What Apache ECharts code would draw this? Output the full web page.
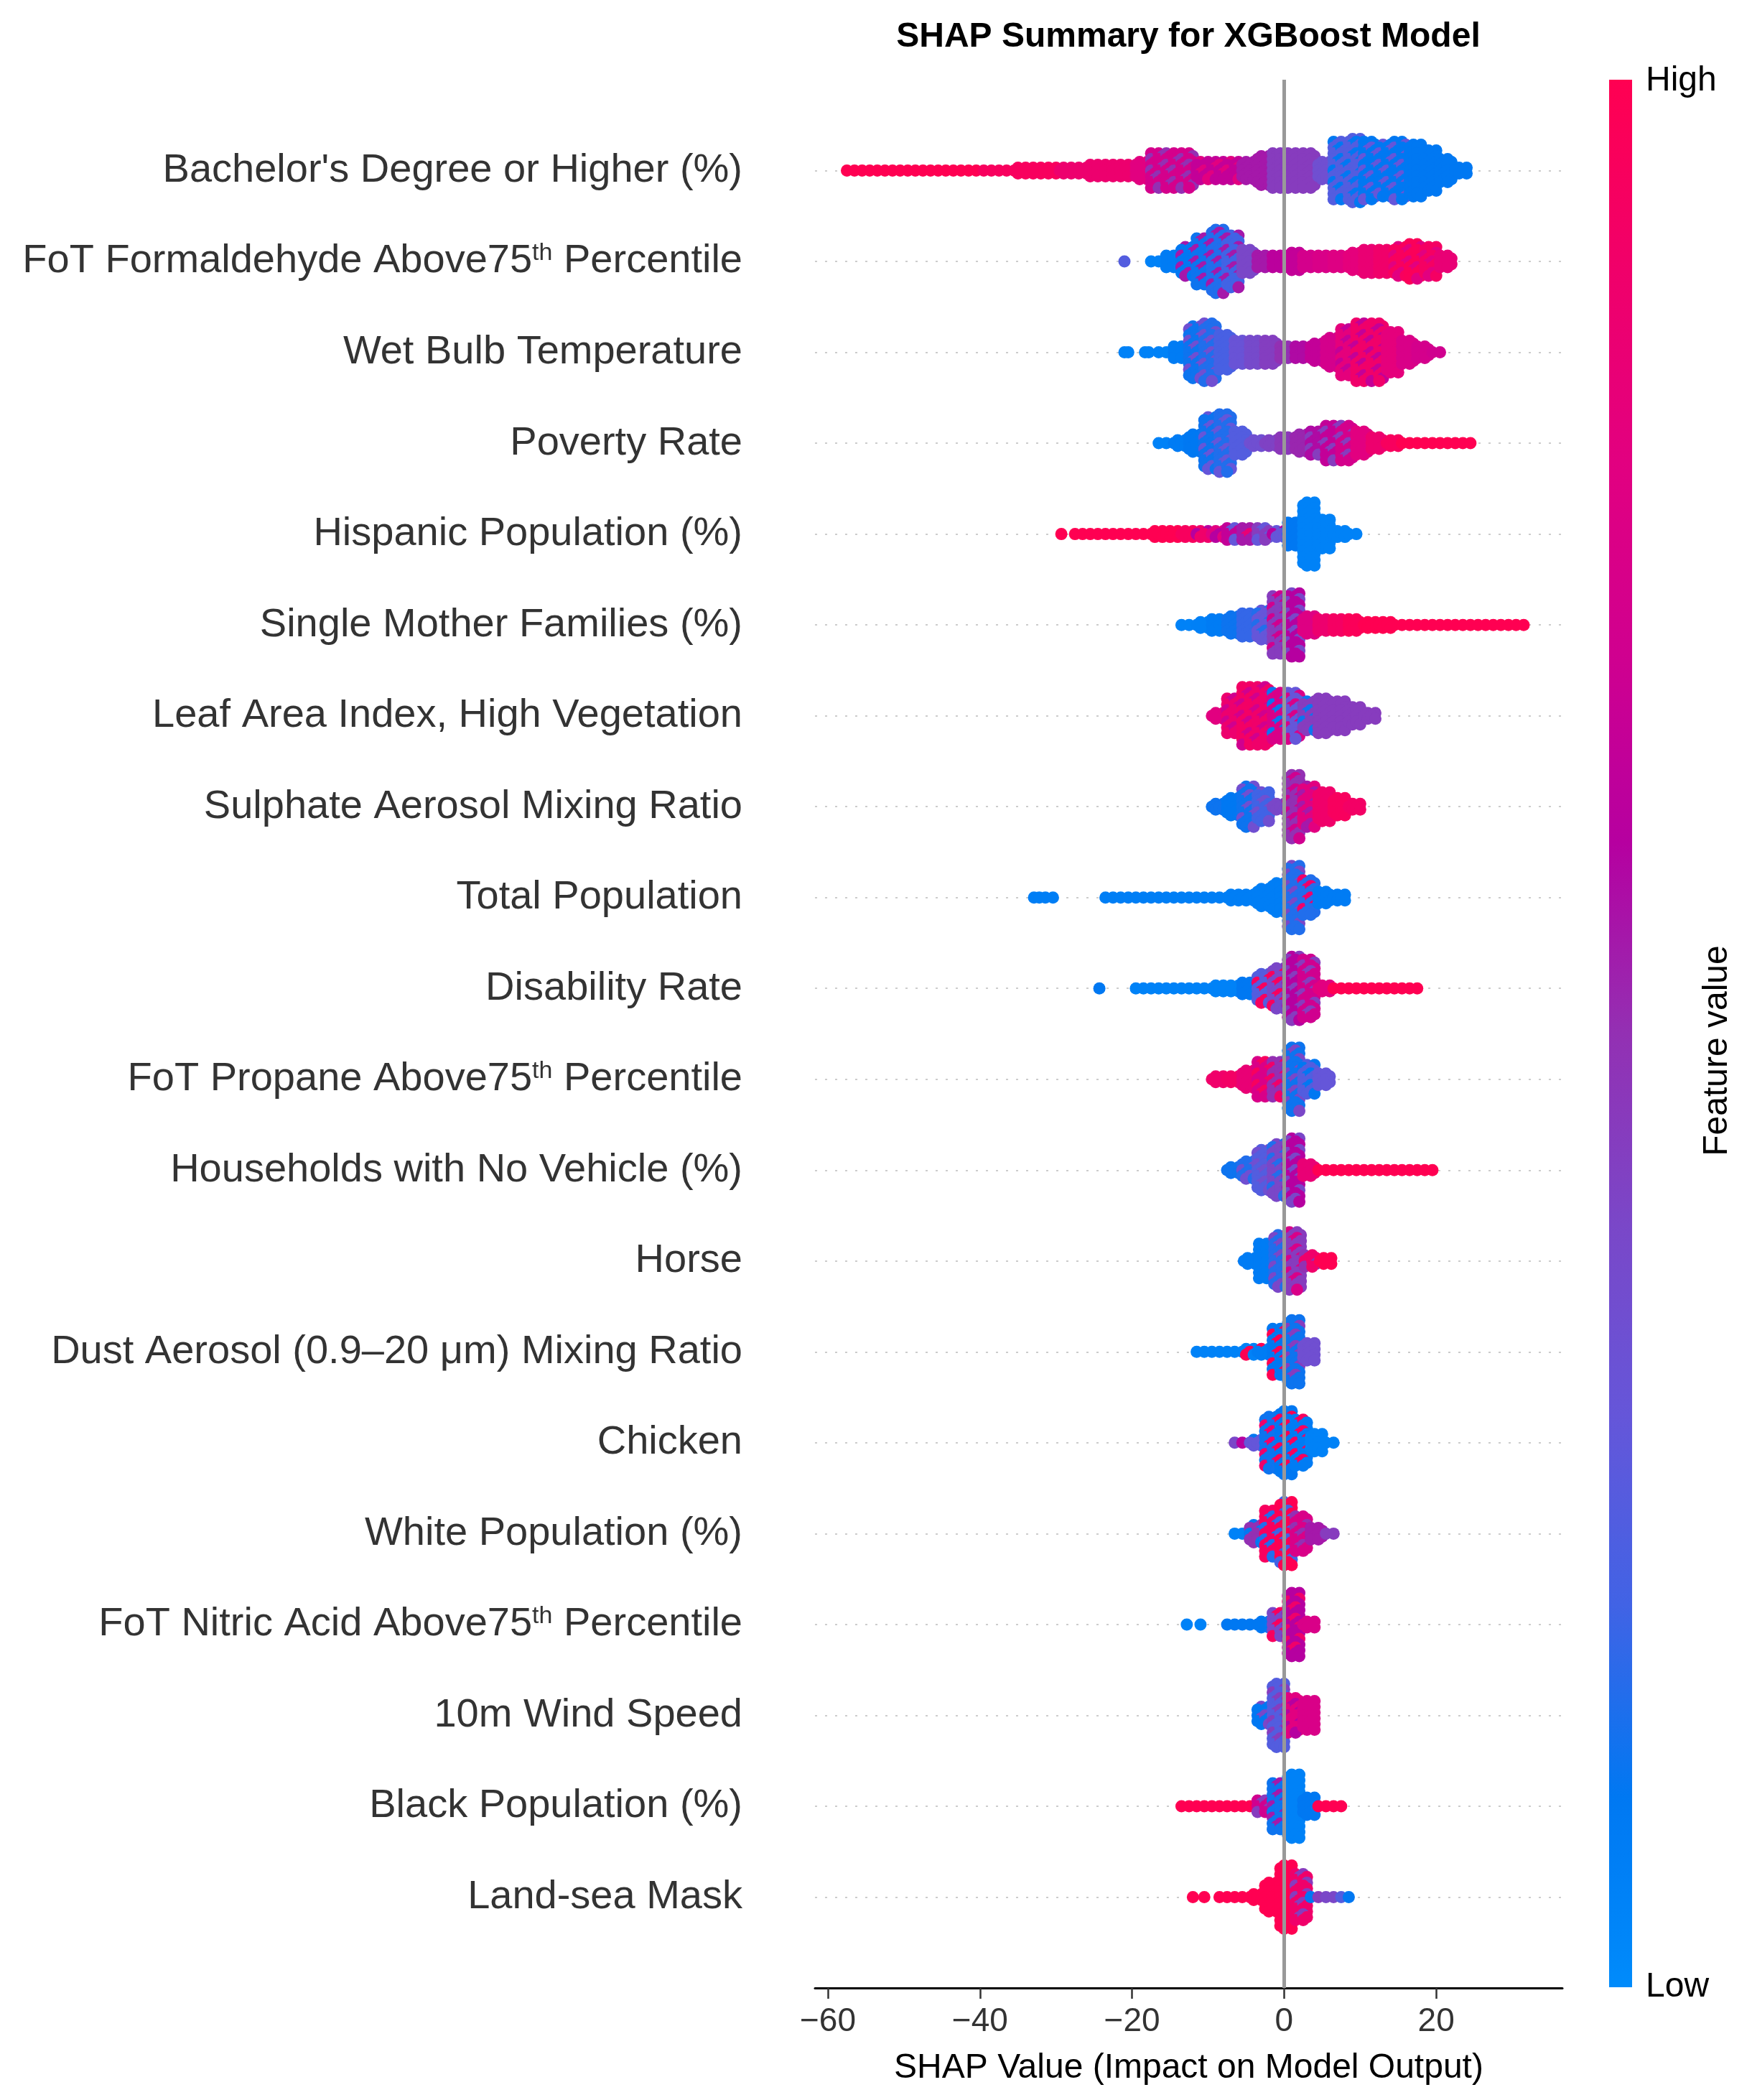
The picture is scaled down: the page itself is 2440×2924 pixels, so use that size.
<!DOCTYPE html>
<html>
<head>
<meta charset="utf-8">
<title>SHAP Summary for XGBoost Model</title>
<script src="https://cdn.jsdelivr.net/npm/echarts@6/dist/echarts.min.js"></script>
<style>
  html, body { margin: 0; padding: 0; background: #fff; }
  #chart { width: 2440px; height: 2924px; }
</style>
</head>
<body>
<div id="chart"></div>
<script>
// features, top to bottom
var featureNames = [
  "Bachelor's Degree or Higher (%)",
  'FoT Formaldehyde Above75th Percentile',
  'Wet Bulb Temperature',
  'Poverty Rate',
  'Hispanic Population (%)',
  'Single Mother Families (%)',
  'Leaf Area Index, High Vegetation',
  'Sulphate Aerosol Mixing Ratio',
  'Total Population',
  'Disability Rate',
  'FoT Propane Above75th Percentile',
  'Households with No Vehicle (%)',
  'Horse',
  'Dust Aerosol (0.9\u201320 \u03bcm) Mixing Ratio',
  'Chicken',
  'White Population (%)',
  'FoT Nitric Acid Above75th Percentile',
  '10m Wind Speed',
  'Black Population (%)',
  'Land-sea Mask'
];

var xTicks = [-60, -40, -20, 0, 20];

// swarm: bins 2 SHAP units wide, starting at binStart
// binDepth = how many dots are stacked each side of the row line
// binValue = feature value (0 low .. 1 high), binMix = second value mixed in (-1 none)
var binStart = [-57, -17, -16, -16, -27, -13, -9, -9, -23, -19, -9, -7, -4.8, -11, -6, -6, -7, -3, -13, -8];

var binDepth = [
  [0,0,0,0,0,0,0,0,0,0,0,1,1,1,1,1,2,2,2,3,6,6,6,3,3,3,3,5,6,6,6,3,10,11,10,9,10,9,7,4,1],
  [0,2,5,8,11,9,4,2,2,3,2,2,2,3,4,4,5,6,5,2],
  [0,2,9,10,6,4,4,4,2,2,3,5,8,10,10,7,4,2,0],
  [0,1,3,9,10,4,1,1,2,3,4,6,6,4,2,1,0,0,0,0,0],
  [0,0,0,0,0,1,1,1,1,1,2,2,2,1,4,11,5,1,0],
  [0,1,2,3,4,5,10,11,3,2,2,2,1,1,0,0,0,0,0,0,0,0,0],
  [1,6,10,10,8,8,5,6,5,3,1],
  [1,3,7,5,1,11,7,5,3,1],
  [0,0,0,0,0,0,0,0,1,1,3,5,11,6,2,1],
  [0,0,0,0,0,1,1,2,5,7,11,10,1,0,0,0,0,0,0],
  [1,1,3,6,6,11,5,2],
  [1,3,7,9,11,2,0,0,0,0,0,0,0,0],
  [1,6,9,10,2,1],
  [0,0,0,1,1,8,11,3],
  [0,1,9,11,8,3,0],
  [0,3,8,11,6,2,0],
  [0,0,1,4,11,1],
  [3,11,6,5],
  [0,0,0,0,0,2,8,11,3,0,0],
  [0,0,1,5,11,8,0,0,0]
];

var binValue = [
  [1,1,1,1,1,1,1,1,1,0.95,0.95,0.95,0.95,0.95,0.88,0.88,0.88,0.88,0.88,0.8,0.72,0.72,0.72,0.65,0.65,0.65,0.55,0.55,0.45,0.45,0.45,0.35,0.25,0.25,0.1,0.1,0.1,0.1,0.1,0.1,0.1],
  [0.05,0.08,0.1,0.12,0.15,0.2,0.4,0.55,0.62,0.65,0.72,0.75,0.78,0.82,0.86,0.9,0.95,0.97,0.93,0.85],
  [0.05,0.08,0.12,0.15,0.22,0.32,0.38,0.44,0.5,0.58,0.65,0.72,0.82,0.9,0.9,0.82,0.75,0.72,0.7],
  [0.05,0.08,0.1,0.12,0.15,0.25,0.35,0.42,0.47,0.52,0.58,0.65,0.72,0.8,0.88,0.95,1,1,1,1,1],
  [1,1,1,1,1,1,1,0.95,0.9,0.8,0.65,0.55,0.45,0.3,0.1,0.05,0.05,0.05,0.05],
  [0.05,0.06,0.08,0.12,0.18,0.3,0.45,0.6,0.78,0.88,0.93,0.97,1,1,1,1,1,1,1,1,1,1,1],
  [0.8,0.88,0.92,0.9,0.75,0.3,0.45,0.45,0.45,0.45,0.45],
  [0.12,0.1,0.12,0.2,0.4,0.5,0.8,0.9,0.95,0.92],
  [0.07,0.07,0.07,0.07,0.07,0.07,0.07,0.07,0.07,0.07,0.07,0.07,0.15,0.15,0.08,0.08],
  [0.05,0.05,0.05,0.05,0.05,0.05,0.05,0.1,0.25,0.4,0.6,0.7,0.8,1,1,1,1,1,1],
  [0.9,0.92,0.85,0.75,0.5,0.12,0.25,0.3],
  [0.12,0.15,0.25,0.4,0.6,0.85,1,1,1,1,1,1,1,1],
  [0.08,0.08,0.15,0.45,0.9,1],
  [0.05,0.05,0.05,0.05,0.08,0.1,0.12,0.35],
  [0.4,0.3,0.12,0.1,0.08,0.05,0.05],
  [0.05,0.5,0.95,1,0.75,0.55,0.45],
  [0.1,0.1,0.1,0.4,0.6,0.75],
  [0.1,0.25,0.8,0.75],
  [1,1,1,1,1,0.7,0.12,0.05,0.1,1,1],
  [1,1,1,1,1,0.9,0.1,0.4,0.25]
];

var binMix = [
  [-1,-1,-1,-1,-1,-1,-1,-1,-1,-1,-1,-1,-1,-1,-1,-1,-1,-1,-1,-1,0.5,0.5,0.5,0.8,0.8,0.8,-1,-1,-1,-1,-1,-1,0.1,0.1,0.3,0.3,0.3,-1,-1,-1,-1],
  [-1,-1,0.55,0.55,0.55,0.55,-1,-1,-1,-1,-1,-1,-1,-1,-1,-1,0.8,0.8,0.8,-1],
  [-1,-1,0.35,0.35,-1,-1,-1,-1,-1,-1,-1,-1,0.65,0.65,0.65,-1,-1,-1,-1],
  [-1,-1,-1,0.3,0.3,-1,-1,-1,-1,-1,0.45,0.45,0.45,-1,-1,-1,-1,-1,-1,-1,-1],
  [-1,-1,-1,-1,-1,-1,-1,-1,0.6,0.6,0.3,0.85,0.3,0.6,-1,-1,-1,-1,-1],
  [-1,-1,-1,-1,-1,0.15,0.7,0.4,-1,-1,-1,-1,-1,-1,-1,-1,-1,-1,-1,-1,-1,-1,-1],
  [-1,0.7,0.7,0.7,0.12,0.75,0.12,-1,-1,-1,-1],
  [-1,-1,0.35,0.35,-1,0.7,0.55,-1,-1,-1],
  [-1,-1,-1,-1,-1,-1,-1,-1,-1,-1,-1,-1,0.4,0.9,-1,-1],
  [-1,-1,-1,-1,-1,-1,-1,-1,0.95,0.95,0.45,0.45,-1,-1,-1,-1,-1,-1,-1],
  [-1,-1,-1,0.95,0.9,0.4,0.1,-1],
  [-1,0.35,0.35,0.15,0.4,-1,-1,-1,-1,-1,-1,-1,-1,-1],
  [-1,-1,0.4,0.75,0.5,-1],
  [-1,-1,-1,1,1,1,0.45,-1],
  [0.6,0.1,0.9,1,0.95,-1,-1],
  [-1,0.1,0.15,0.2,0.5,-1,-1],
  [-1,-1,-1,0.95,0.9,-1],
  [0.4,0.45,0.6,-1],
  [-1,-1,-1,-1,-1,0.45,0.55,-1,-1,-1,-1],
  [-1,-1,-1,-1,-1,0.45,0.45,0.95,0.1]
];

// lone dots away from the swarms
var outlierRow   = [1, 2, 2, 2, 2, 4, 8, 8, 8, 8, 9, 16, 16, 19, 19];
var outlierShap  = [-21.0, -21.0, -20.5, -18.3, -17.8, -29.3, -32.9, -32.2, -31.4, -30.4, -24.3, -12.8, -11.0, -12.0, -10.5];
var outlierValue = [0.25, 0.05, 0.05, 0.05, 0.05, 1, 0.07, 0.07, 0.07, 0.07, 0.1, 0.05, 0.05, 1, 1];

// shap red_blue colour map, low -> high
var colorStops = ['#008bfb', '#0078f2', '#4163e5', '#6556d9', '#7a47c8', '#9330b3', '#b600a0', '#d0008f', '#e20080', '#f0006a', '#ff0052'];

var xMin = -61.7, xMax = 36.6;
var layerStep = 0.0316;
var FONT = 'Liberation Sans, Arial, sans-serif';

var dots = [];
featureNames.forEach(function (name, row) {
  var depth = binDepth[row], val = binValue[row], mix = binMix[row];
  for (var b = 0; b < depth.length; b++) {
    var cx = binStart[row] + 2 * b;
    for (var col = 0; col < 2; col++) {
      // odd layers sit half a column over, like a packed swarm
      for (var j = -depth[b]; j <= depth[b]; j++) {
        var x = cx + (col ? 0.5 : -0.5) + ((j & 1) ? 0.5 : 0);
        // spread the mixed-in colour unevenly through the stack
        var pick = ((j + 20) * 37 + b * 11 + col * 23 + row * 5) % 7 < 2;
        var v = (mix[b] >= 0 && pick) ? mix[b] : val[b];
        dots.push([x, row + j * layerStep, v]);
      }
    }
  }
});
outlierRow.forEach(function (row, k) {
  dots.push([outlierShap[k], row, outlierValue[k]]);
});

var rowLines = featureNames.map(function (n, i) {
  return { coords: [[xMin, i], [xMax, i]] };
});

function labelText(name) {
  return name.replace('75th', '75{sup|th}');
}

var gradient = colorStops.map(function (c, k) {
  return { offset: k / (colorStops.length - 1), color: colorStops[colorStops.length - 1 - k] };
});

var chart = echarts.init(document.getElementById('chart'));

var option = {
  animation: false,
  backgroundColor: '#fff',
  grid: { left: 1135, right: 264, top: 111, bottom: 156 },
  xAxis: {
    type: 'value',
    min: xMin,
    max: xMax,
    name: 'SHAP Value (Impact on Model Output)',
    nameLocation: 'middle',
    nameGap: 88,
    nameTextStyle: { fontSize: 48, color: '#000', fontFamily: FONT },
    axisLine: { show: true, onZero: false, lineStyle: { color: '#000', width: 3 } },
    axisTick: { show: true, customValues: xTicks, length: 15, lineStyle: { color: '#333', width: 2.5 } },
    axisLabel: {
      customValues: xTicks,
      fontSize: 46,
      color: '#333',
      fontFamily: FONT,
      margin: 24,
      formatter: function (v) { return String(v).replace('-', '\u2212'); }
    },
    splitLine: { show: false }
  },
  yAxis: {
    type: 'value',
    inverse: true,
    min: -1,
    max: 20,
    interval: 1,
    axisLine: { show: false },
    axisTick: { show: false },
    splitLine: { show: false },
    axisLabel: {
      margin: 101,
      fontSize: 56,
      color: '#333',
      fontFamily: FONT,
      formatter: function (v) {
        return featureNames[v] ? labelText(featureNames[v]) : '';
      },
      rich: {
        sup: { fontSize: 34, color: '#333', fontFamily: FONT, verticalAlign: 'top', padding: [0, 0, 16, 0] }
      }
    }
  },
  visualMap: {
    show: false,
    type: 'continuous',
    min: 0,
    max: 1,
    dimension: 2,
    seriesIndex: 1,
    inRange: { color: colorStops }
  },
  series: [
    {
      type: 'lines',
      coordinateSystem: 'cartesian2d',
      silent: true,
      z: 1,
      data: rowLines,
      lineStyle: { color: '#cccccc', width: 2, type: [3, 11], opacity: 1 },
      markLine: {
        silent: true,
        symbol: 'none',
        label: { show: false },
        lineStyle: { color: '#999999', width: 5, type: 'solid' },
        data: [{ xAxis: 0 }]
      }
    },
    {
      type: 'scatter',
      z: 3,
      symbolSize: 17,
      large: false,
      progressive: 0,
      data: dots,
      itemStyle: { opacity: 1 }
    }
  ],
  graphic: [
    {
      type: 'text',
      x: 1655, y: 52,
      style: { text: 'SHAP Summary for XGBoost Model', fill: '#000', font: 'bold 48px ' + FONT, textAlign: 'center', textVerticalAlign: 'middle' }
    },
    {
      type: 'rect',
      shape: { x: 2241, y: 111, width: 32, height: 2656 },
      style: { fill: new echarts.graphic.LinearGradient(0, 0, 0, 1, gradient) }
    },
    {
      type: 'text',
      x: 2292, y: 113,
      style: { text: 'High', fill: '#000', font: '48px ' + FONT, textAlign: 'left', textVerticalAlign: 'middle' }
    },
    {
      type: 'text',
      x: 2292, y: 2767,
      style: { text: 'Low', fill: '#000', font: '48px ' + FONT, textAlign: 'left', textVerticalAlign: 'middle' }
    },
    {
      type: 'text',
      x: 2392, y: 1463,
      rotation: Math.PI / 2,
      style: { text: 'Feature value', fill: '#000', font: '48px ' + FONT, textAlign: 'center', textVerticalAlign: 'middle' }
    }
  ]
};

chart.setOption(option);
</script>
</body>
</html>
